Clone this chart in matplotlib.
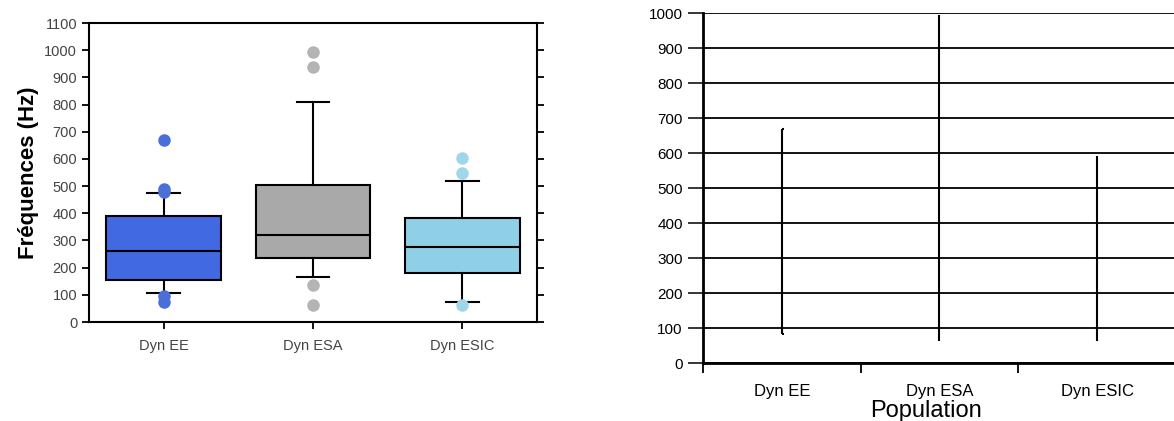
import matplotlib
matplotlib.use('Agg')
import matplotlib.pyplot as plt

plt.rcParams['font.family'] = ['Liberation Sans', 'DejaVu Sans']

# categories
groups = ['Dyn EE', 'Dyn ESA', 'Dyn ESIC']

# boxplot stats (Hz)
q1 = [153, 234, 181]
med = [260, 320, 275]
q3 = [390, 504, 381]
whis_lo = [105, 167, 75]
whis_hi = [476, 810, 519]
fliers = [[670, 490, 480, 95, 75],
          [994, 939, 136, 63],
          [602, 547, 63]]

box_colors = ['#4169e1', '#a9a9a9', '#8fd0e6']
flier_colors = ['#4a6fd6', '#b4b4b4', '#9fd6ea']

# min / max lines of the right panel (Hz)
lo_vals = [83, 65, 65]
hi_vals = [669, 995, 593]
has_cap = [True, False, False]

fig = plt.figure(figsize=(11.74, 4.21), dpi=100)

# ---- left panel: boxplot ----
ax1 = fig.add_axes([89 / 1174, 99 / 421, 448 / 1174, 299 / 421])
stats = []
for i in range(len(groups)):
    stats.append(dict(med=med[i], q1=q1[i], q3=q3[i],
                      whislo=whis_lo[i], whishi=whis_hi[i],
                      fliers=fliers[i], label=groups[i]))
pos = [1, 2, 3]
bp = ax1.bxp(stats, positions=pos, widths=0.77, patch_artist=True,
             capwidths=0.22,
             boxprops=dict(linewidth=1.5, edgecolor='black'),
             medianprops=dict(color='black', linewidth=1.5),
             whiskerprops=dict(color='black', linewidth=1.5),
             capprops=dict(color='black', linewidth=1.5))
for patch, c in zip(bp['boxes'], box_colors):
    patch.set_facecolor(c)
for fl, c in zip(bp['fliers'], flier_colors):
    fl.set(marker='o', markerfacecolor=c, markeredgecolor=c, markersize=8)

ax1.set_xlim(0.5, 3.5)
ax1.set_ylim(0, 1100)
ax1.set_yticks(range(0, 1101, 100))
ax1.set_xticks(pos)
ax1.set_xticklabels(groups)
ax1.tick_params(axis='both', direction='out', labelsize=10.5, labelcolor='#444444',
                width=1.3, length=5)
ax1.tick_params(axis='x', pad=7)
ax1.tick_params(axis='y', right=True, labelright=False)
for s in ax1.spines.values():
    s.set_linewidth(1.5)
ax1.set_ylabel('Fréquences (Hz)', fontsize=16, fontweight='bold', labelpad=4)

# ---- right panel: min-max lines ----
ax2 = fig.add_axes([703 / 1174, 57.7 / 421, 473 / 1174, 350 / 421])
xc = [0.5, 1.5, 2.5]
ax2.set_ylim(0, 1000)
ax2.set_xlim(0, 3)
ax2.set_yticks(range(0, 1001, 100))
ax2.yaxis.grid(True, color='black', linewidth=1.3)
ax2.set_axisbelow(True)
ax2.vlines(xc, lo_vals, hi_vals, color='black', linewidth=1.5)
for x, lo, hi, cap in zip(xc, lo_vals, hi_vals, has_cap):
    if cap:
        ax2.hlines([lo, hi], x, x + 0.015, color='black', linewidth=1.5)
ax2.set_xticks([0, 1, 2, 3])
ax2.set_xticklabels([])
ax2.set_xticks(xc, minor=True)
ax2.set_xticklabels(groups, minor=True)
ax2.tick_params(axis='x', which='minor', length=0, labelsize=12, pad=15)
ax2.tick_params(axis='x', which='major', length=7, width=1.3, direction='out')
ax2.tick_params(axis='y', length=11, width=1.1, direction='out', labelsize=11)
ax2.spines['top'].set_visible(False)
ax2.spines['right'].set_visible(False)
ax2.spines['left'].set_linewidth(2)
ax2.spines['bottom'].set_linewidth(2)
ax2.set_xlabel('Population', fontsize=17)
ax2.xaxis.set_label_coords(0.471, -0.105)

fig.savefig('out.png', dpi=100)
